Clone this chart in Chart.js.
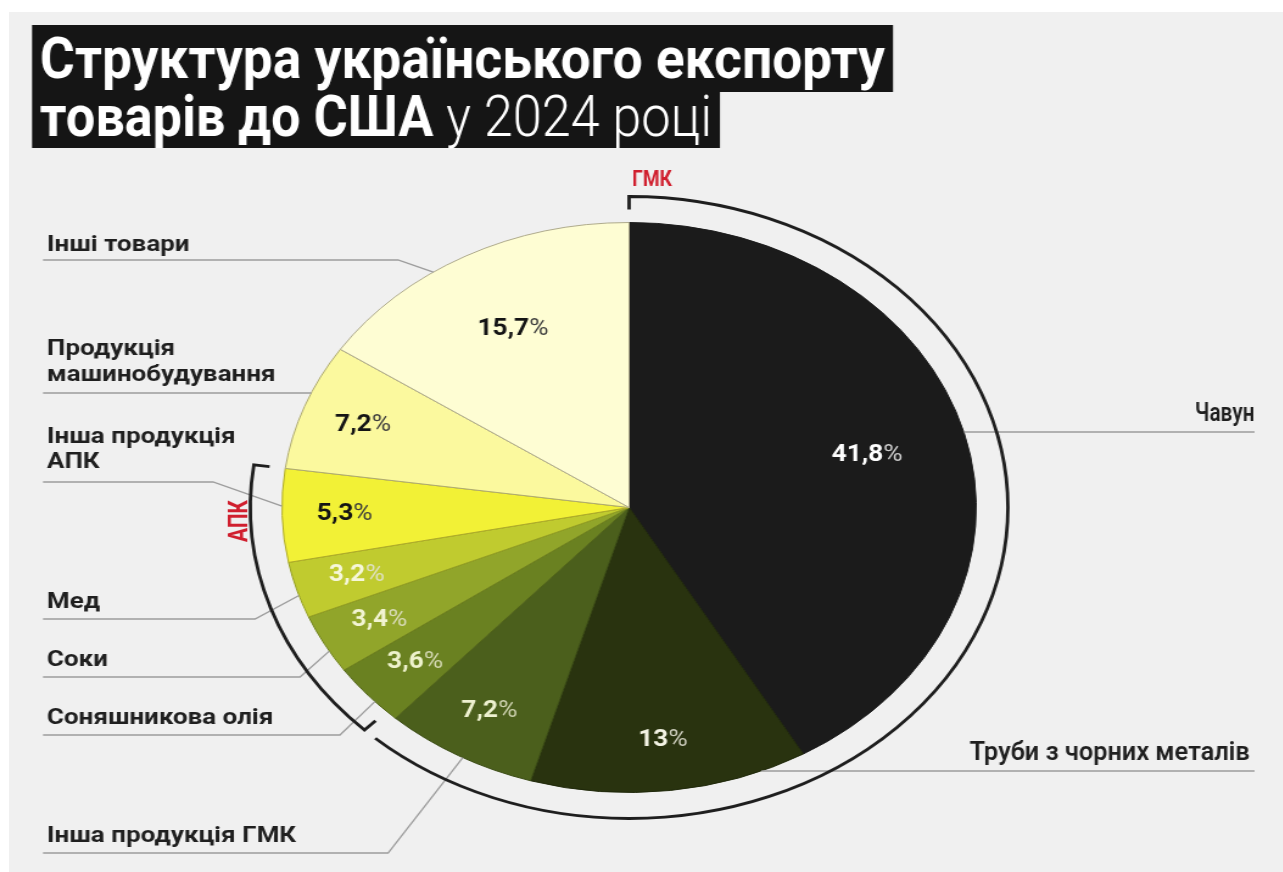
<!DOCTYPE html>
<html lang="uk">
<head>
<meta charset="utf-8">
<title>Структура українського експорту товарів до США у 2024 році</title>
<script src="https://cdn.jsdelivr.net/npm/chart.js@4.4.1/dist/chart.umd.min.js"></script>
<style>
  html, body { margin: 0; padding: 0; background: #ffffff; }
  body { width: 1283px; height: 872px; overflow: hidden; position: relative; }
  #panel { position: absolute; left: 9px; top: 12px; right: 0; bottom: 0; background: #f0f0f0; }
  /* the whole graphic is laid out on a narrower stage and widened horizontally */
  #stage { position: absolute; left: 0; top: 0; width: 1054px; height: 872px;
           transform-origin: 0 0; transform: scaleX(1.218); }
  canvas { display: block; }
</style>
</head>
<body>
<div id="panel"></div>
<div id="stage"><canvas id="chart" width="1054" height="872"></canvas></div>
<script>
// ---- data ----
const categories = [
  'Чавун',
  'Труби з чорних металів',
  'Інша продукція ГМК',
  'Соняшникова олія',
  'Соки',
  'Мед',
  'Інша продукція АПК',
  'Продукція машинобудування',
  'Інші товари'
];
const shares = [41.8, 13, 7.2, 3.6, 3.4, 3.2, 5.3, 7.2, 15.7];
const groupNames = ['ГМК', 'АПК'];
const groupMembers = [[0, 1, 2], [3, 4, 5, 6]];
const titleLine1 = 'Структура українського експорту';
const titleLine2Bold = 'товарів до США';
const titleLine2Light = 'у 2024 році';

// ---- styles ----
const sliceColors = ['#1b1b1b', '#29330f', '#4b5f1c', '#6a8121', '#91a52a', '#c0cb2f', '#f2f136', '#fbf99e', '#fefdd3'];
const sliceBorders = ['#1b1b1b', '#1f280a', '#3a4b14', '#526518', '#71831d', '#949f22', '#aeaa28', '#aeaa70', '#aeaa8c'];
const numColors = ['#ffffff', '#f3f3e4', '#eef1d0', '#eef2cc', '#f2f4d2', '#f6f7da', '#141414', '#141414', '#141414'];
const pctColors = ['#d2d2d2', '#d0d0c0', '#d0d4b2', '#d4d8b2', '#dadcba', '#dfe1c2', '#3c3c3c', '#3c3c3c', '#3c3c3c'];
const FONT = 'Roboto, "Noto Sans", "DejaVu Sans", sans-serif';
const LINE_COLOR = '#9c9c9c';
const BRACKET_COLOR = '#1e1e1e';
const RED = '#d01f2e';

// label placement around the pie (stage units)
const leaderLayout = [
  { i: 0, side: 'right', textX: 1030, lines: ['Чавун'], base: [421], lineY: 432, lineEnd: 1030, width: 49 },
  { i: 1, side: 'right', textX: 1026, lines: ['Труби з чорних металів'], base: [760], lineY: 771, lineEnd: 1030, width: 230 },
  { i: 2, side: 'left', lines: ['Інша продукція ГМК'], base: [842], lineY: 853, elbowX: 318.6, frac: 0.47 },
  { i: 3, side: 'left', lines: ['Соняшникова олія'], base: [724], lineY: 735, elbowX: 279.1, frac: 0.37 },
  { i: 4, side: 'left', lines: ['Соки'], base: [666], lineY: 677, elbowX: 246.3, frac: 0.37 },
  { i: 5, side: 'left', lines: ['Мед'], base: [608], lineY: 619, elbowX: 209.4, frac: 0.4 },
  { i: 6, side: 'left', lines: ['Інша продукція', 'АПК'], base: [443, 468], lineY: 482, elbowX: 174.9, frac: 0.6 },
  { i: 7, side: 'left', lines: ['Продукція', 'машинобудування'], base: [355, 381], lineY: 393, elbowX: null },
  { i: 8, side: 'left', lines: ['Інші товари'], base: [251], lineY: 260, elbowX: 326.8, frac: 0.39 }
];
const LEFT_TEXT_X = 38.6;
const LEFT_LINE_X = 35.3;

function formatShare(v) {
  return String(v).replace('.', ',');
}

// draws text squeezed/widened horizontally to a given width
function fitText(ctx, text, x, y, targetW, align) {
  const w = ctx.measureText(text).width;
  const s = targetW / w;
  ctx.save();
  ctx.translate(x, y);
  ctx.scale(s, 1);
  ctx.textAlign = 'left';
  const x0 = align === 'right' ? -w : (align === 'center' ? -w / 2 : 0);
  ctx.fillText(text, x0, 0);
  ctx.restore();
}

const annotations = {
  id: 'annotations',
  afterDraw(chart) {
    const ctx = chart.ctx;
    const meta = chart.getDatasetMeta(0);
    const arcs = meta.data;
    const cx = arcs[0].x, cy = arcs[0].y;
    const R = arcs[0].outerRadius;

    // ---- title ----
    ctx.save();
    ctx.fillStyle = '#151515';
    ctx.fillRect(26.3, 25, 706.9, 67);
    ctx.fillRect(26.3, 92, 564.8, 56);
    ctx.fillStyle = '#ffffff';
    ctx.textBaseline = 'alphabetic';
    ctx.font = 'bold 58px ' + FONT;
    fitText(ctx, titleLine1, 32.8, 78, 693.8, 'left');
    // second line: bold part then light part, squeezed together
    ctx.font = 'bold 58px ' + FONT;
    const wb = ctx.measureText(titleLine2Bold + ' ').width;
    ctx.font = '300 58px ' + FONT;
    const wl = ctx.measureText(titleLine2Light).width;
    const s2 = 551.7 / (wb + wl);
    ctx.save();
    ctx.translate(32.8, 136);
    ctx.scale(s2, 1);
    ctx.textAlign = 'left';
    ctx.font = 'bold 58px ' + FONT;
    ctx.fillText(titleLine2Bold + ' ', 0, 0);
    ctx.font = '300 58px ' + FONT;
    ctx.fillText(titleLine2Light, wb, 0);
    ctx.restore();
    ctx.restore();

    // ---- percentage labels inside the slices ----
    ctx.save();
    ctx.textBaseline = 'middle';
    arcs.forEach((arc, i) => {
      const mid = (arc.startAngle + arc.endAngle) / 2;
      const rf = shares[i] >= 15 ? 0.71 : 0.82;
      const x = cx + Math.cos(mid) * R * rf;
      const y = cy + Math.sin(mid) * R * rf;
      const num = formatShare(shares[i]);
      ctx.font = 'bold 24px ' + FONT;
      const wn = ctx.measureText(num).width;
      ctx.font = '400 24px ' + FONT;
      const wp = ctx.measureText('%').width;
      const sq = 0.9;
      const x0 = x - (wn + wp) * sq / 2;
      ctx.save();
      ctx.translate(x0, y);
      ctx.scale(sq, 1);
      ctx.textAlign = 'left';
      ctx.font = 'bold 24px ' + FONT;
      ctx.fillStyle = numColors[i];
      ctx.fillText(num, 0, 0);
      ctx.font = '400 24px ' + FONT;
      ctx.fillStyle = pctColors[i];
      ctx.fillText('%', wn, 0);
      ctx.restore();
    });
    ctx.restore();

    // ---- leader lines ----
    ctx.save();
    ctx.strokeStyle = LINE_COLOR;
    ctx.lineWidth = 1.3;
    leaderLayout.forEach(L => {
      const arc = arcs[L.i];
      ctx.beginPath();
      if (L.side === 'right') {
        const dy = L.lineY - cy;
        const ex = cx + Math.sqrt(R * R - dy * dy);
        ctx.moveTo(ex, L.lineY);
        ctx.lineTo(L.lineEnd, L.lineY);
      } else if (L.elbowX === null) {
        const dy = L.lineY - cy;
        const ex = cx - Math.sqrt(R * R - dy * dy);
        ctx.moveTo(LEFT_LINE_X, L.lineY);
        ctx.lineTo(ex, L.lineY);
      } else {
        const a = arc.startAngle + L.frac * (arc.endAngle - arc.startAngle);
        const ex = cx + Math.cos(a) * R;
        const ey = cy + Math.sin(a) * R;
        ctx.moveTo(LEFT_LINE_X, L.lineY);
        ctx.lineTo(L.elbowX, L.lineY);
        ctx.lineTo(ex, ey);
      }
      ctx.stroke();
    });
    ctx.restore();

    // ---- category names ----
    ctx.save();
    ctx.textBaseline = 'alphabetic';
    ctx.fillStyle = '#1f1f1f';
    ctx.font = 'bold 22px ' + FONT;
    leaderLayout.filter(L => L.side === 'left').forEach(L => {
      L.lines.forEach((t, k) => fitText(ctx, t, LEFT_TEXT_X, L.base[k], ctx.measureText(t).width * 0.97, 'left'));
    });
    ctx.font = '600 26px ' + FONT;
    leaderLayout.filter(L => L.side === 'right').forEach(L => {
      fitText(ctx, L.lines[0], L.textX, L.base[0], L.width, 'right');
    });
    ctx.restore();

    // ---- group brackets ----
    const RB = R + 26;
    const tick = 13;
    ctx.save();
    ctx.strokeStyle = BRACKET_COLOR;
    ctx.lineWidth = 2.8;
    ctx.lineCap = 'butt';
    // ГМК: from the top, clockwise to the end of its last slice; tick at the top only
    {
      const g = groupMembers[0];
      const a0 = arcs[g[0]].startAngle;
      const a1 = arcs[g[g.length - 1]].endAngle;
      ctx.beginPath();
      ctx.moveTo(cx + Math.cos(a0) * (RB - tick), cy + Math.sin(a0) * (RB - tick));
      ctx.lineTo(cx + Math.cos(a0) * RB, cy + Math.sin(a0) * RB);
      ctx.arc(cx, cy, RB, a0, a1 - 0.004);
      ctx.stroke();
    }
    // АПК: ticks on both ends
    {
      const g = groupMembers[1];
      const a0 = arcs[g[0]].startAngle + 0.035;
      const a1 = arcs[g[g.length - 1]].endAngle;
      ctx.beginPath();
      ctx.moveTo(cx + Math.cos(a0) * (RB - tick), cy + Math.sin(a0) * (RB - tick));
      ctx.lineTo(cx + Math.cos(a0) * RB, cy + Math.sin(a0) * RB);
      ctx.arc(cx, cy, RB, a0, a1);
      ctx.lineTo(cx + Math.cos(a1) * (RB - tick), cy + Math.sin(a1) * (RB - tick));
      ctx.stroke();
    }
    ctx.restore();

    // ---- group names ----
    ctx.save();
    ctx.fillStyle = RED;
    ctx.textBaseline = 'alphabetic';
    ctx.font = 'bold 22px ' + FONT;
    fitText(ctx, groupNames[0], 518.9, 186, 32.8, 'left');
    ctx.translate(203, 521);
    ctx.rotate(-Math.PI / 2);
    ctx.textBaseline = 'alphabetic';
    fitText(ctx, groupNames[1], 0, 0, 42, 'center');
    ctx.restore();
  }
};

function build() {
  const ctx = document.getElementById('chart').getContext('2d');
  new Chart(ctx, {
    type: 'pie',
    data: {
      labels: categories,
      datasets: [{
        data: shares,
        backgroundColor: sliceColors,
        borderColor: sliceBorders,
        borderWidth: 1
      }]
    },
    options: {
      responsive: false,
      animation: false,
      events: [],
      layout: { padding: { left: 231, right: 252, top: 222, bottom: 79 } },
      plugins: {
        legend: { display: false },
        tooltip: { enabled: false },
        title: { display: false }
      }
    },
    plugins: [annotations]
  });
}

const fontLoads = ['bold 58px Roboto', '300 58px Roboto', '600 26px Roboto', '400 24px Roboto', 'bold 22px Roboto']
  .map(f => document.fonts.load(f).catch(() => null));
Promise.all(fontLoads).then(build, build);
</script>
</body>
</html>
